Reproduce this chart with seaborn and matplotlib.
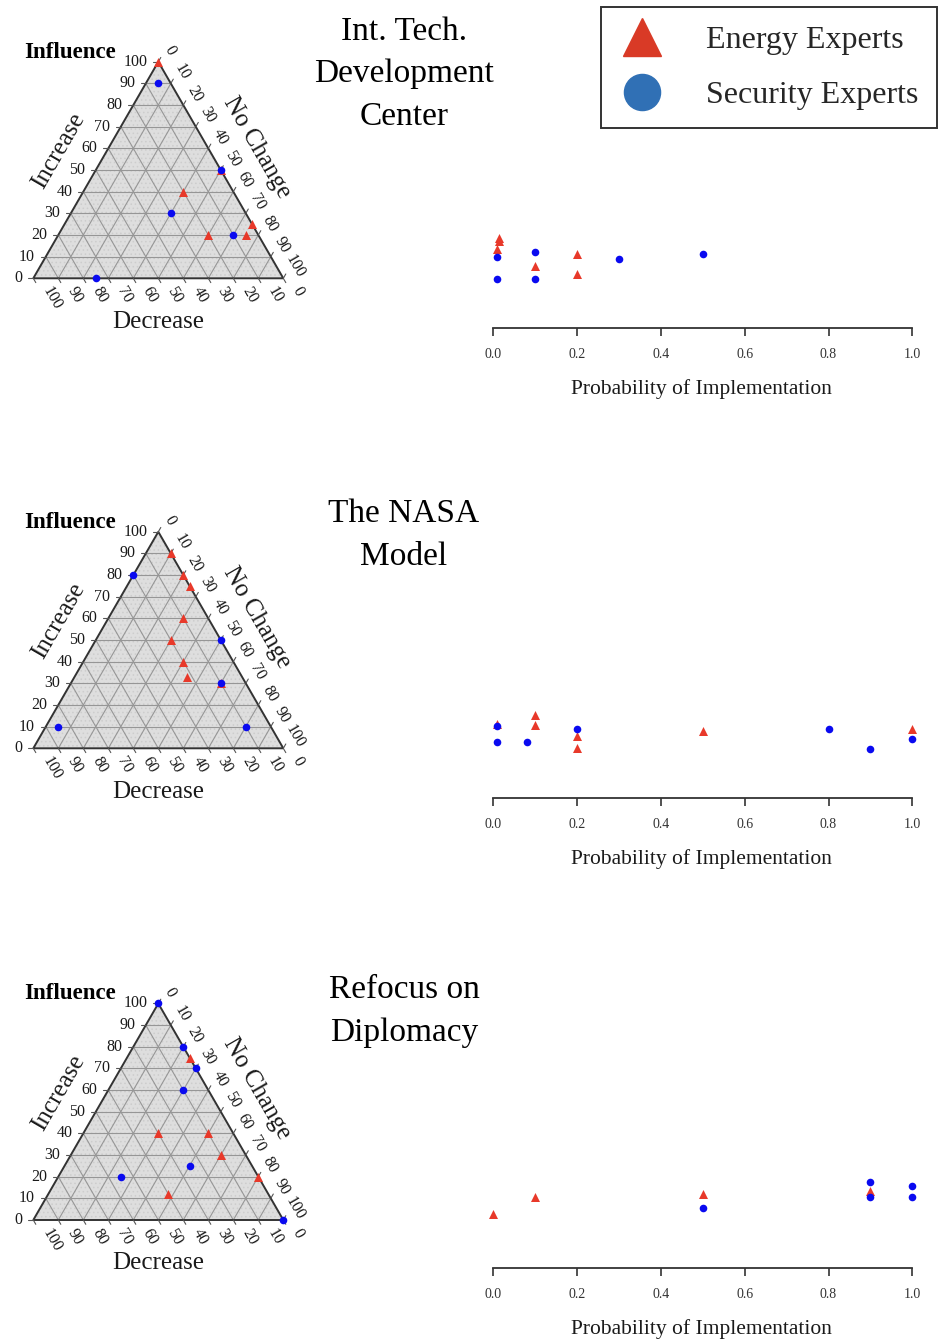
import numpy as np
import pandas as pd
import matplotlib
matplotlib.use("Agg")
import matplotlib.pyplot as plt
import seaborn as sns
from matplotlib.lines import Line2D
from matplotlib.patches import Polygon

# ---------------- data ----------------
titles = ["Int. Tech.\nDevelopment\nCenter", "The NASA\nModel", "Refocus on\nDiplomacy"]
groups = ["Energy Experts", "Security Experts"]

# ternary responses (Increase, No Change, Decrease) in %
p1_energy_inc = [100, 50, 40, 20, 20, 25]
p1_energy_noc = [0, 50, 40, 60, 75, 75]
p1_energy_dec = [0, 0, 20, 20, 5, 0]
p1_security_inc = [90, 50, 30, 20, 0]
p1_security_noc = [5, 50, 40, 70, 25]
p1_security_dec = [5, 0, 30, 10, 75]

p2_energy_inc = [90, 80, 75, 60, 50, 40, 33, 30]
p2_energy_noc = [10, 20, 25, 30, 30, 40, 45, 60]
p2_energy_dec = [0, 0, 0, 10, 20, 20, 22, 10]
p2_security_inc = [80, 50, 30, 10, 10]
p2_security_noc = [0, 50, 60, 5, 80]
p2_security_dec = [20, 0, 10, 85, 10]

p3_energy_inc = [75, 40, 40, 30, 20, 12]
p3_energy_noc = [25, 30, 50, 60, 80, 48]
p3_energy_dec = [0, 30, 10, 10, 0, 40]
p3_security_inc = [100, 80, 70, 60, 25, 20, 0]
p3_security_noc = [0, 20, 30, 30, 50, 25, 100]
p3_security_dec = [0, 0, 0, 10, 25, 55, 0]

# probability of implementation, with the vertical jitter
p1_energy_prob = [0.008, 0.014, 0.014, 0.1, 0.2, 0.2]
p1_energy_jit = [0.79, 0.90, 0.87, 0.62, 0.74, 0.54]
p1_security_prob = [0.01, 0.01, 0.1, 0.1, 0.3, 0.5]
p1_security_jit = [0.71, 0.49, 0.76, 0.49, 0.69, 0.74]

p2_energy_prob = [0.01, 0.1, 0.1, 0.2, 0.2, 0.5, 1.0]
p2_energy_jit = [0.74, 0.83, 0.73, 0.62, 0.50, 0.67, 0.69]
p2_security_prob = [0.01, 0.01, 0.08, 0.2, 0.8, 0.9, 1.0]
p2_security_jit = [0.72, 0.56, 0.56, 0.69, 0.69, 0.49, 0.59]

p3_energy_prob = [0.0, 0.1, 0.5, 0.9]
p3_energy_jit = [0.54, 0.71, 0.74, 0.77]
p3_security_prob = [0.5, 0.9, 0.9, 1.0, 1.0]
p3_security_jit = [0.60, 0.86, 0.71, 0.82, 0.71]

x_ticks = [0.0, 0.2, 0.4, 0.6, 0.8, 1.0]
x_tick_labels = ["0.0", "0.2", "0.4", "0.6", "0.8", "1.0"]
tern_ticks = [0, 10, 20, 30, 40, 50, 60, 70, 80, 90, 100]

panels = [
    dict(inc={"Energy Experts": p1_energy_inc, "Security Experts": p1_security_inc},
         noc={"Energy Experts": p1_energy_noc, "Security Experts": p1_security_noc},
         dec={"Energy Experts": p1_energy_dec, "Security Experts": p1_security_dec},
         prob={"Energy Experts": p1_energy_prob, "Security Experts": p1_security_prob},
         jit={"Energy Experts": p1_energy_jit, "Security Experts": p1_security_jit}),
    dict(inc={"Energy Experts": p2_energy_inc, "Security Experts": p2_security_inc},
         noc={"Energy Experts": p2_energy_noc, "Security Experts": p2_security_noc},
         dec={"Energy Experts": p2_energy_dec, "Security Experts": p2_security_dec},
         prob={"Energy Experts": p2_energy_prob, "Security Experts": p2_security_prob},
         jit={"Energy Experts": p2_energy_jit, "Security Experts": p2_security_jit}),
    dict(inc={"Energy Experts": p3_energy_inc, "Security Experts": p3_security_inc},
         noc={"Energy Experts": p3_energy_noc, "Security Experts": p3_security_noc},
         dec={"Energy Experts": p3_energy_dec, "Security Experts": p3_security_dec},
         prob={"Energy Experts": p3_energy_prob, "Security Experts": p3_security_prob},
         jit={"Energy Experts": p3_energy_jit, "Security Experts": p3_security_jit}),
]

# ---------------- style ----------------
sns.set_theme(style="white")
plt.rcParams["font.family"] = ["Liberation Serif", "DejaVu Serif"]
plt.rcParams["hatch.linewidth"] = 0.6

W, H = 938, 1342
fig = plt.figure(figsize=(W / 100, H / 100), dpi=100)

RED = "#e8392a"
BLUE = "#0a0af0"
colors = {"Energy Experts": RED, "Security Experts": BLUE}
markers = {"Energy Experts": "^", "Security Experts": "o"}
msize = {"Energy Experts": 42, "Security Experts": 30}
TXT = "#1a1a1a"


def px_axes(x0, y0, x1, y1):
    return fig.add_axes([x0 / W, 1 - y1 / H, (x1 - x0) / W, (y1 - y0) / H])


h = np.sqrt(3) / 2
tern_base = [278.3, 748.3, 1220.0]
strip_axis = [328.3, 798.3, 1268.3]
title_y = [74.0, 535.0, 1011.0]

for k, pnl in enumerate(panels):
    # ---------- ternary ----------
    B = tern_base[k]
    ax = px_axes(0, B - 250, 315, B + 70)
    ax.set_xlim((0 - 33.3) / 2.5, (315 - 33.3) / 2.5)
    ax.set_ylim(-70 / 2.5, 250 / 2.5)
    ax.axis("off")

    tri = Polygon([[0, 0], [100, 0], [50, 100 * h]], closed=True,
                  facecolor="#dedede", edgecolor="none", zorder=0)
    ax.add_patch(tri)
    tri_h = Polygon([[0, 0], [100, 0], [50, 100 * h]], closed=True,
                    facecolor="none", edgecolor="#cdcdcd", hatch="....",
                    linewidth=0, zorder=0.5)
    ax.add_patch(tri_h)
    for v in range(10, 100, 10):
        ax.plot([v / 2, 100 - v / 2], [h * v, h * v], color="#969696", lw=0.8, zorder=1)
        ax.plot([v, 50 + v / 2], [0, h * (100 - v)], color="#969696", lw=0.8, zorder=1)
        ax.plot([100 - v, (100 - v) / 2], [0, h * (100 - v)], color="#969696", lw=0.8, zorder=1)
    ax.add_patch(Polygon([[0, 0], [100, 0], [50, 100 * h]], closed=True,
                         facecolor="none", edgecolor="#333333", lw=1.4, zorder=2))

    for v in tern_ticks:
        # Increase (left side)
        x, y = v / 2, h * v
        ax.plot([x, x - 2], [y, y], color="#555555", lw=0.8)
        ax.text(x - 4.3, y, str(v), ha="right", va="center", fontsize=11.5, color=TXT)
        # Decrease (bottom)
        x, y = 100 - v, 0
        ax.plot([x, x + 1], [y, y - 1.73], color="#555555", lw=0.8)
        ax.text(x + 5.0, y - 3.8, str(v), ha="left", va="center", fontsize=11.5,
                rotation=-60, rotation_mode="anchor", color=TXT)
        # No Change (right side)
        x, y = 50 + v / 2, h * (100 - v)
        ax.plot([x, x + 1], [y, y + 1.73], color="#555555", lw=0.8)
        ax.text(x + 4.6, y + 4.6, str(v), ha="center", va="center", fontsize=11.5,
                rotation=-60, color=TXT)

    ax.text(-3.7, 90.5, "Influence", ha="left", va="center", fontsize=16.5,
            fontweight="bold", color="black")
    ax.text(10.2, 50.9, "Increase", ha="center", va="center", fontsize=18, rotation=60, color=TXT)
    ax.text(89.3, 52.5, "No Change", ha="center", va="center", fontsize=18, rotation=-60, color=TXT)
    ax.text(49.9, -17.3, "Decrease", ha="center", va="center", fontsize=18, color=TXT)

    for g in groups:
        df = pd.DataFrame({"inc": pnl["inc"][g], "noc": pnl["noc"][g], "dec": pnl["dec"][g]})
        df["x"] = df["noc"] + df["inc"] / 2
        df["y"] = df["inc"] * h
        sns.scatterplot(data=df, x="x", y="y", ax=ax, color=colors[g], marker=markers[g],
                        s=msize[g], linewidth=0, zorder=5, legend=False)
    ax.set_xlabel("")
    ax.set_ylabel("")

    # ---------- strip ----------
    A = strip_axis[k]
    sx = px_axes(470, A - 130, 930, A + 12)
    for g in groups:
        df = pd.DataFrame({"prob": pnl["prob"][g], "jit": pnl["jit"][g]})
        sns.scatterplot(data=df, x="prob", y="jit", ax=sx, color=colors[g], marker=markers[g],
                        s=msize[g], linewidth=0, zorder=5, legend=False, clip_on=False)
    sx.set_xlim((470 - 493.3) / 419, (930 - 493.3) / 419)
    sx.set_ylim(-0.12, 1.30)
    for s in ["top", "right", "left"]:
        sx.spines[s].set_visible(False)
    sx.spines["bottom"].set_position(("data", 0))
    sx.spines["bottom"].set_bounds(0, 1)
    sx.spines["bottom"].set_color("#333333")
    sx.spines["bottom"].set_linewidth(1.3)
    sx.set_xticks(x_ticks)
    sx.set_xticklabels(x_tick_labels)
    sx.set_yticks([])
    sx.tick_params(axis="x", direction="out", length=6, width=1.2, color="#333333",
                   labelsize=10, pad=8, labelcolor="#333333", bottom=True)
    sx.set_ylabel("")
    sx.set_xlabel("Probability of Implementation", fontsize=15.5, color=TXT)
    sx.xaxis.set_label_coords(0.503, -0.272)
    sx.set_facecolor("none")

    # ---------- title ----------
    fig.text(404 / W, 1 - title_y[k] / H, titles[k], ha="center", va="center",
             fontsize=24, color="black", linespacing=1.52)

# ---------- legend ----------
handles = [Line2D([], [], marker="^", color="#d93a26", ls="", markersize=27),
           Line2D([], [], marker="o", color="#3070b5", ls="", markersize=26)]
leg = fig.legend(handles, groups, loc="upper left", bbox_to_anchor=(601 / W, 1 - 7 / H),
                 frameon=True, fancybox=False, edgecolor="black", fontsize=23,
                 borderpad=0.58, labelspacing=0.8, handlelength=1.4, handletextpad=1.3,
                 borderaxespad=0)
leg.get_frame().set_linewidth(1.4)

fig.savefig("out.png", dpi=100)
